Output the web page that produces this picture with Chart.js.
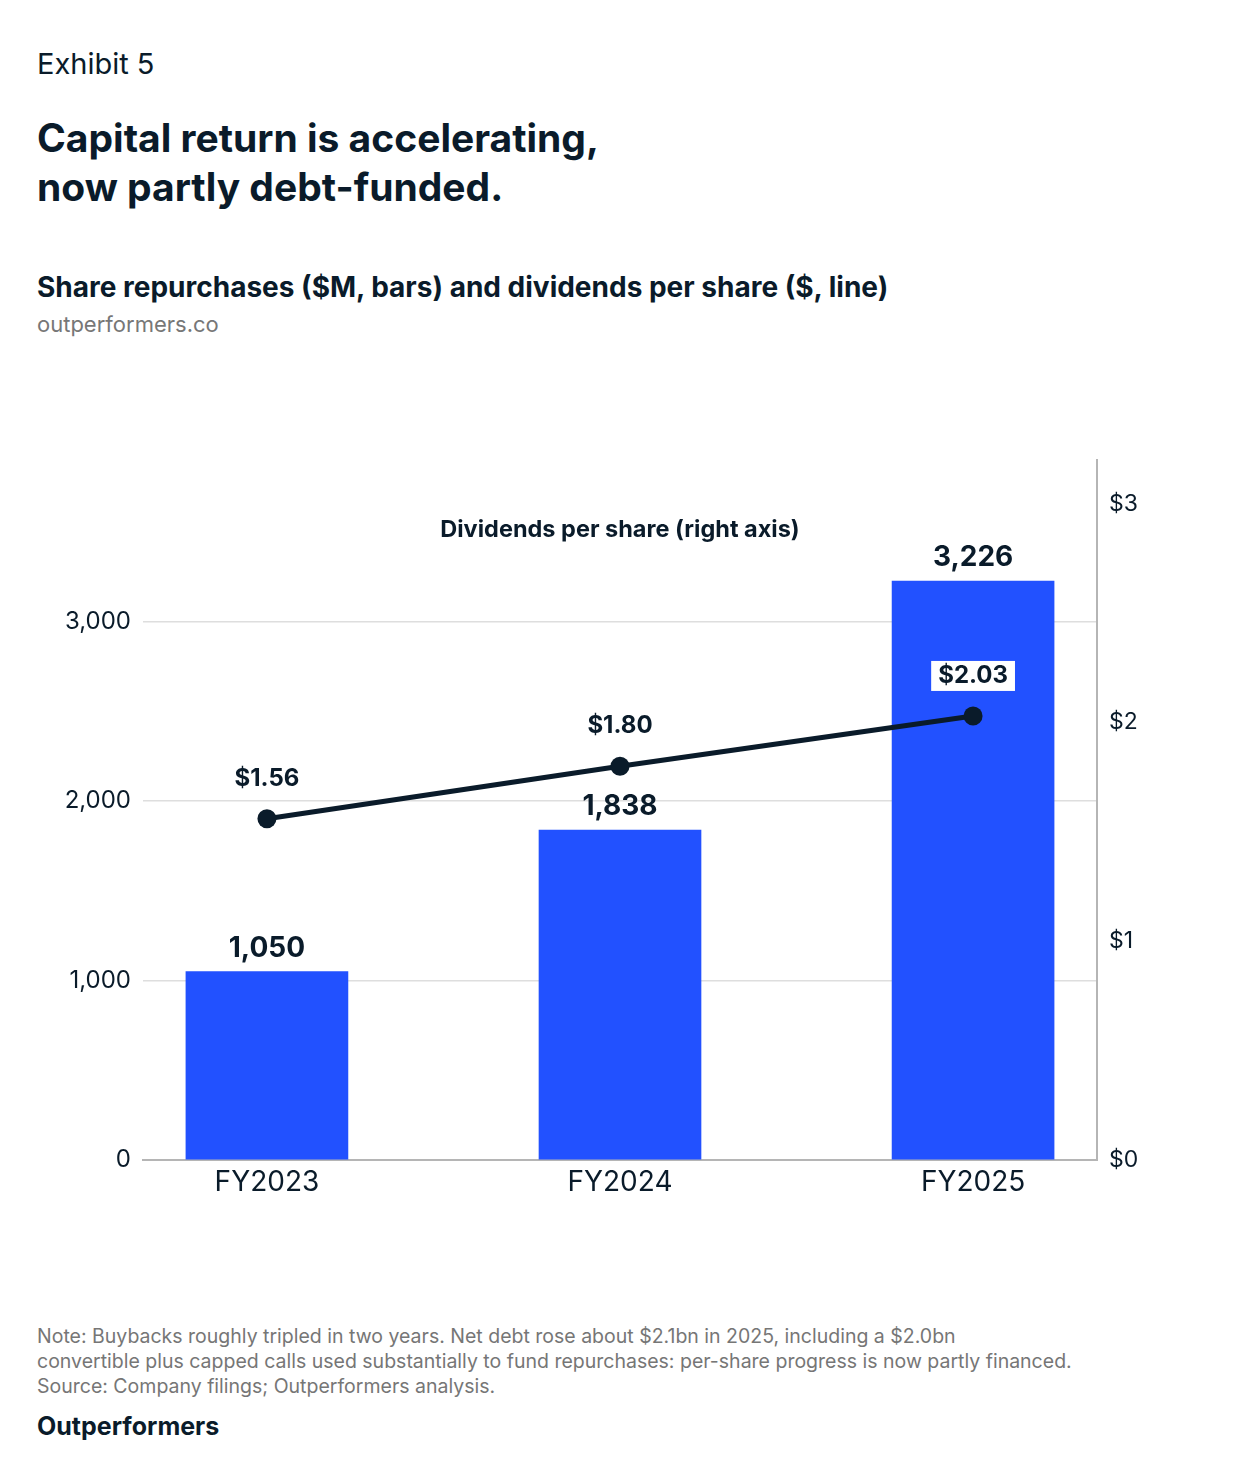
<!DOCTYPE html>
<html>
<head>
<meta charset="utf-8">
<script src="https://cdn.jsdelivr.net/npm/chart.js@4.4.1/dist/chart.umd.min.js"></script>
<style>
  html, body { margin: 0; padding: 0; background: #fff; }
  body { width: 1240px; height: 1480px; position: relative; font-family: Inter, "Noto Sans", sans-serif; color: #0a1b2a; }
  .t { position: absolute; left: 37px; white-space: nowrap; line-height: 1.2; }
  #exhibit { top: 47px; font-size: 29px; }
  #title { top: 113px; font-size: 39px; font-weight: 700; line-height: 49px; }
  #subtitle { top: 271px; font-size: 28px; font-weight: 700; }
  #site { top: 311px; font-size: 22px; color: #777; }
  #note { top: 1324px; font-size: 19.5px; line-height: 25px; color: #767676; }
  #brand { top: 1411px; font-size: 25px; font-weight: 700; }
  #wrap { position: absolute; left: 0; top: 440px; width: 1240px; height: 780px; }
</style>
</head>
<body>
<div class="t" id="exhibit">Exhibit 5</div>
<div class="t" id="title">Capital return is accelerating,<br>now partly debt-funded.</div>
<div class="t" id="subtitle">Share repurchases ($M, bars) and dividends per share ($, line)</div>
<div class="t" id="site">outperformers.co</div>
<div class="t" id="note">Note: Buybacks roughly tripled in two years. Net debt rose about $2.1bn in 2025, including a $2.0bn<br>convertible plus capped calls used substantially to fund repurchases: per-share progress is now partly financed.<br>Source: Company filings; Outperformers analysis.</div>
<div class="t" id="brand">Outperformers</div>
<div id="wrap"><canvas id="chart"></canvas></div>

<script>
const years = ['FY2023', 'FY2024', 'FY2025'];
const buybacks = [1050, 1838, 3226];          // $M
const dividends = [1.56, 1.80, 2.03];         // $ per share
const leftTicks = [0, 1000, 2000, 3000];
const rightTicks = [0, 1, 2, 3];

const INK = '#0a1b2a';
const BLUE = '#2251ff';
const AXIS = '#b5b5b5';
const GRID = '#dedede';
const FONT = 'Inter, "Noto Sans", sans-serif';

const labelsPlugin = {
  id: 'labels',
  afterDatasetsDraw(chart) {
    const ctx = chart.ctx;
    const area = chart.chartArea;
    ctx.save();
    ctx.textAlign = 'center';
    ctx.textBaseline = 'alphabetic';
    ctx.fillStyle = INK;

    // series caption
    ctx.font = '700 23.5px ' + FONT;
    ctx.fillText('Dividends per share (right axis)', (area.left + area.right) / 2, area.top + 77);

    // bar values
    ctx.font = '700 28px ' + FONT;
    chart.getDatasetMeta(0).data.forEach((bar, i) => {
      ctx.fillText(buybacks[i].toLocaleString('en-US'), bar.x, bar.y - 15);
    });

    // dividend values, with a white tag
    ctx.font = '700 24px ' + FONT;
    chart.getDatasetMeta(1).data.forEach((pt, i) => {
      const txt = '$' + dividends[i].toFixed(2);
      const w = ctx.measureText(txt).width + 14;
      ctx.fillStyle = '#fff';
      ctx.fillRect(pt.x - w / 2, pt.y - 55, w, 30);
      ctx.fillStyle = INK;
      ctx.fillText(txt, pt.x, pt.y - 33);
    });
    ctx.restore();
  }
};

new Chart(document.getElementById('chart'), {
  data: {
    datasets: [
      {
        type: 'bar',
        data: years.map((_, i) => ({ x: i, y: buybacks[i] })),
        backgroundColor: BLUE,
        barThickness: 162,
        yAxisID: 'y',
        order: 1
      },
      {
        type: 'line',
        data: years.map((_, i) => ({ x: i, y: dividends[i] })),
        borderColor: INK,
        borderWidth: 5,
        pointRadius: 9.5,
        pointBackgroundColor: INK,
        pointBorderWidth: 0,
        yAxisID: 'y2',
        order: 0
      }
    ]
  },
  options: {
    responsive: true,
    maintainAspectRatio: false,
    animation: false,
    layout: { padding: { top: 20 } },
    plugins: { legend: { display: false }, tooltip: { enabled: false } },
    scales: {
      x: {
        type: 'linear',
        offset: false,
        min: -0.351,
        max: 2.351,
        afterBuildTicks: s => { s.ticks = years.map((_, i) => ({ value: i })); },
        afterFit: s => { s.height = 60; s.paddingLeft = 0; s.paddingRight = 0; },
        grid: { display: false, drawTicks: false, offset: false },
        border: { display: true, color: AXIS, width: 2 },
        ticks: {
          padding: 6,
          color: INK,
          font: { family: FONT, size: 28 },
          callback: v => years[v]
        }
      },
      y: {
        position: 'left',
        min: 0,
        max: 3900,
        afterBuildTicks: s => { s.ticks = leftTicks.map(v => ({ value: v })); },
        afterFit: s => { s.width = 143; s.paddingTop = 0; s.paddingBottom = 0; },
        grid: { color: GRID, lineWidth: 1.5, drawTicks: false },
        border: { display: false },
        ticks: {
          padding: 12,
          color: INK,
          font: { family: FONT, size: 24 },
          callback: v => v.toLocaleString('en-US')
        }
      },
      y2: {
        position: 'right',
        min: 0,
        max: 3.2,
        afterBuildTicks: s => { s.ticks = rightTicks.map(v => ({ value: v })); },
        afterFit: s => { s.width = 143; s.paddingTop = 0; s.paddingBottom = 0; },
        grid: { display: false, drawTicks: false },
        border: { display: true, color: AXIS, width: 2 },
        ticks: {
          padding: 12,
          color: INK,
          font: { family: FONT, size: 23 },
          callback: v => '$' + v
        }
      }
    }
  },
  plugins: [labelsPlugin]
});
</script>
</body>
</html>
